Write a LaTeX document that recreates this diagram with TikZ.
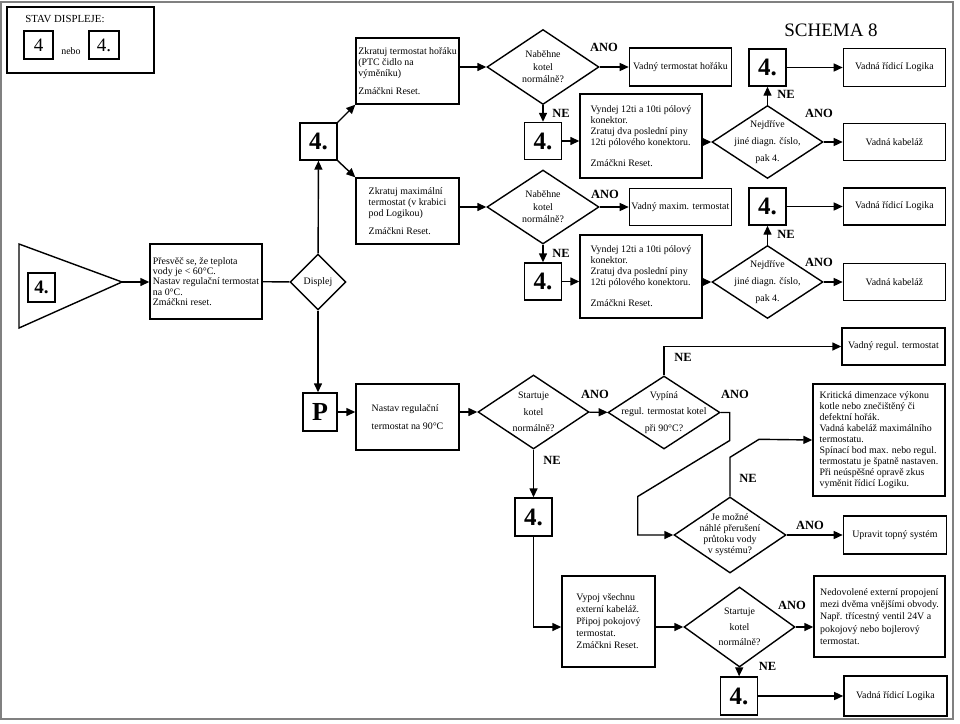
\documentclass[tikz,border=0pt]{standalone}
\usepackage{fontspec}
\setmainfont{Liberation Serif}
\usetikzlibrary{arrows.meta, positioning, shapes.geometric}
\newcommand{\boxfont}{\fontsize{9.9}{11}\selectfont}
\newcommand{\numfont}{\fontsize{25}{25}\selectfont\bfseries}
\newcommand{\ansfont}{\fontsize{12.5}{13}\selectfont\bfseries}

\begin{document}
\begin{tikzpicture}[
        x=1pt, y=-1pt,
        every node/.style={font=\boxfont},
        box/.style={rectangle, draw, line width=1.4pt, inner sep=2pt, align=left},
        num/.style={box, minimum width=37pt, minimum height=37pt, font=\numfont},
        dia/.style={diamond, draw, line width=1.4pt, minimum width=112pt, minimum height=75pt},
        dtxt/.style={align=center, font=\boxfont},
        answer/.style={font=\ansfont},
        arrow/.style={-{Triangle[length=9pt, width=8pt]}, line width=1.4pt},
        link/.style={line width=1.4pt}
    ]
        \useasboundingbox (0,0) rectangle (960,723);
        \draw[gray, line width=2pt] (1,2) rectangle (953,719);
        % legend
        \node[box, minimum width=147pt, minimum height=66pt] (legend) at (80.5,40) {};
        \node[font=\fontsize{10.8}{12}\selectfont] (legendtitle) at (65,19) {STAV DISPLEJE:};
        \node[box, minimum width=29pt, minimum height=28pt, font=\fontsize{19}{19}\selectfont] (dispA) at (38.5,45) {4};
        \node (nebo) at (71,51) {nebo};
        \node[box, minimum width=30pt, minimum height=28pt, font=\fontsize{19}{19}\selectfont] (dispB) at (104,45) {4.};
        \node[font=\fontsize{19}{20}\selectfont] (title) at (831,30) {SCHEMA 8};
        % start
        \draw[link] (19,244) -- (19,328) -- (122,282) -- cycle;
        \coordinate (start) at (122,282);
        \node[num, minimum width=27pt, minimum height=29pt, font=\fontsize{19}{19}\selectfont\bfseries] (startnum) at (41.5,287.5) {4.};
        \node[box, minimum width=112pt, minimum height=75pt, font=\fontsize{9.9}{10.3}\selectfont] (check) at (206,281.5) {Přesvěč se, že teplota\\vody je < 60°C.\\Nastav regulační termostat\\na 0°C.\\Zmáčkni reset.};
        \node[diamond, draw, line width=1.4pt, inner sep=1pt, minimum width=56pt, minimum height=56pt] (displej) at (318,282) {Displej};
        \node[num] (fourA) at (318.5,141.5) {4.};
        \node[box, minimum width=103pt, minimum height=66pt] (short1) at (407.5,71) {Zkratuj termostat hořáku\\(PTC čidlo na\\výměníku)\\[7pt]Zmáčkni Reset.};
        \node[box, minimum width=103pt, minimum height=66pt] (short2) at (407.5,211) {Zkratuj maximální\\termostat (v krabici\\pod Logikou)\\[7pt]Zmáčkni Reset.};
        % row 1
        \node[dia, label={[dtxt]center:{Naběhne\\[1.5pt]kotel\\[1.5pt]normálně?}}] (start1) at (543,67) {};
        \node[box, minimum width=102pt, minimum height=38pt, right=29pt of start1] (burner) {Vadný termostat hořáku};
        \node[num] (four1) at (543,141) {4.};
        \node[box, minimum width=122pt, minimum height=84pt] (pins1) at (641,136) {Vyndej 12ti a 10ti pólový\\konektor.\\Zratuj dva poslední piny\\12ti pólového konektoru.\\[10pt]Zmáčkni Reset.};
        \node[dia, minimum width=111pt, minimum height=73pt, label={[dtxt]center:{Nejdříve\\[6pt]jiné diagn. číslo,\\[6pt]pak 4.}}] (first1) at (767.5,142) {};
        \node[num] (four1b) at (767.5,67.5) {4.};
        \node[box, minimum width=102pt, minimum height=38pt, right=56pt of four1b] (logic1) {Vadná řídicí Logika};
        \node[box, minimum width=102pt, minimum height=37pt, right=19pt of first1] (wiring1) {Vadná kabeláž};
        % row 2
        \node[dia, minimum height=74pt, label={[dtxt]center:{Naběhne\\[1.5pt]kotel\\[1.5pt]normálně?}}] (start2) at (543,207) {};
        \node[box, minimum width=102pt, minimum height=37pt, right=29pt of start2] (maxim) {Vadný maxim. termostat};
        \node[num] (four2) at (543,281.5) {4.};
        \node[box, minimum width=122pt, minimum height=83pt] (pins2) at (641,276.5) {Vyndej 12ti a 10ti pólový\\konektor.\\Zratuj dva poslední piny\\12ti pólového konektoru.\\[10pt]Zmáčkni Reset.};
        \node[dia, minimum width=111pt, minimum height=73pt, label={[dtxt]center:{Nejdříve\\[6pt]jiné diagn. číslo,\\[6pt]pak 4.}}] (first2) at (767.5,282) {};
        \node[num] (four2b) at (767.5,206.5) {4.};
        \node[box, minimum width=102pt, minimum height=37pt, right=56pt of four2b] (logic2) {Vadná řídicí Logika};
        \node[box, minimum width=102pt, minimum height=37pt, right=19pt of first2] (wiring2) {Vadná kabeláž};
        % test at 90 C
        \node[num, minimum width=34pt, minimum height=38pt, font=\fontsize{26}{26}\selectfont\bfseries] (P) at (320,412) {P};
        \node[box, minimum width=103pt, minimum height=66pt] (set90) at (407.5,417) {Nastav regulační\\[7pt]termostat na 90°C};
        \node[dia, minimum width=111pt, minimum height=74pt, label={[dtxt]center:{Startuje\\[5.5pt]kotel\\[5.5pt]normálně?}}] (runs1) at (533.5,412) {};
        \node[dia, minimum height=73pt, label={[dtxt]center:{Vypíná\\[5.5pt]regul. termostat kotel\\[5.5pt]při 90°C?}}] (switch) at (664,412.5) {};
        \node[box, minimum width=103pt, minimum height=37pt] (regul) at (893.5,346.5) {Vadný regul. termostat};
        \node[num, minimum height=38pt] (four3) at (533.5,517) {4.};
        \node[dia, minimum height=76pt, label={[dtxt]center:{Je možné\\náhlé přerušení\\průtoku vody\\v systému?}}] (flow) at (730,535) {};
        \node[box, minimum width=132pt, minimum height=112pt] (causes) at (879,440) {Kritická dimenzace výkonu\\kotle nebo znečištěný či\\defektní hořák.\\Vadná kabeláž maximálního\\termostatu.\\Spínací bod max. nebo regul.\\termostatu je špatně nastaven.\\Při neúspěšné opravě zkus\\vyměnit řídicí Logiku.};
        \node[box, minimum width=103pt, minimum height=38pt, right=56pt of flow] (adjust) {Upravit topný systém};
        \node[box, minimum width=93pt, minimum height=91pt, font=\fontsize{9.9}{12}\selectfont] (unplug) at (608.5,621.5) {Vypoj všechnu\\externí kabeláž.\\Připoj pokojový\\termostat.\\Zmáčkni Reset.};
        \node[dia, minimum width=111pt, minimum height=80pt, label={[dtxt]center:{Startuje\\[4.5pt]kotel\\[4.5pt]normálně?}}] (runs2) at (739.5,627) {};
        \node[box, minimum width=131pt, minimum height=81pt, font=\fontsize{9.9}{12.2}\selectfont] (extern) at (879.5,616.5) {Nedovolené externí propojení\\mezi dvěma vnějšími obvody.\\Např. třícestný ventil 24V a\\pokojový nebo bojlerový\\termostat.};
        \node[num, minimum height=38pt] (four4) at (739,696) {4.};
        \node[box, minimum width=103pt, minimum height=40pt, right=85pt of four4] (logic3) {Vadná řídicí Logika};
        % answers
        \node[answer] (ano1) at (604,47) {ANO};
        \node[answer] (ne1) at (561,113) {NE};
        \node[answer] (ne1b) at (786,94) {NE};
        \node[answer] (ano1b) at (819,113) {ANO};
        \node[answer] (ano2) at (605,194) {ANO};
        \node[answer] (ne2) at (561,253) {NE};
        \node[answer] (ne2b) at (786,234) {NE};
        \node[answer] (ano2b) at (819,262) {ANO};
        \node[answer] (ano3) at (595,394) {ANO};
        \node[answer] (ne3) at (552,460) {NE};
        \node[answer] (ne4) at (683,357) {NE};
        \node[answer] (ano4) at (735,394) {ANO};
        \node[answer] (ne5) at (748,478) {NE};
        \node[answer] (ano5) at (810,525) {ANO};
        \node[answer] (ano6) at (792,605) {ANO};
        \node[answer] (ne6) at (767.5,666) {NE};
        % connectors
        \draw[arrow] (start) -- (start -| check.west);
        \draw[link] (check) -- (displej);
        \draw[arrow] (displej) -- (fourA);
        \draw[arrow] (displej.south) -- (displej.south |- P.north);
        \draw[arrow] (fourA.north east) -- (short1.south west);
        \draw[arrow] (fourA.south east) -- (short2.north west);
        \draw[arrow] (short1.east |- start1) -- (start1.west);
        \draw[arrow] (start1) -- (burner);
        \draw[arrow] (start1) -- (four1);
        \draw[arrow] (four1) -- (four1 -| pins1.west);
        \draw[arrow] (pins1.east |- first1) -- (first1.west);
        \draw[arrow] (first1) -- (four1b);
        \draw[arrow] (four1b) -- (logic1);
        \draw[arrow] (first1) -- (wiring1);
        \draw[arrow] (short2.east |- start2) -- (start2.west);
        \draw[arrow] (start2) -- (maxim);
        \draw[arrow] (start2) -- (four2);
        \draw[arrow] (four2) -- (four2 -| pins2.west);
        \draw[arrow] (pins2.east |- first2) -- (first2.west);
        \draw[arrow] (first2) -- (four2b);
        \draw[arrow] (four2b) -- (logic2);
        \draw[arrow] (first2) -- (wiring2);
        \draw[arrow] (P) -- (P -| set90.west);
        \draw[arrow] (set90.east |- runs1) -- (runs1.west);
        \draw[arrow] (runs1) -- (switch);
        \draw[arrow] (switch.north) |- (regul);
        \draw[arrow] (runs1) -- (four3);
        \draw[arrow] (switch.east) -- ++(9,0) -- ++(0,28) -- ++(-92,56) |- (flow.west);
        \draw[arrow] (flow.north) -- ++(0,-39) -- ++(29,-18) -- (causes.west);
        \draw[arrow] (flow) -- (adjust);
        \draw[arrow] (four3) |- (runs2.west -| unplug.west);
        \draw[arrow] (unplug.east |- runs2) -- (runs2.west);
        \draw[arrow] (runs2) -- (runs2 -| extern.west);
        \draw[arrow] (runs2) -- (four4);
        \draw[arrow] (four4) -- (logic3);
    \end{tikzpicture}
\end{document}
